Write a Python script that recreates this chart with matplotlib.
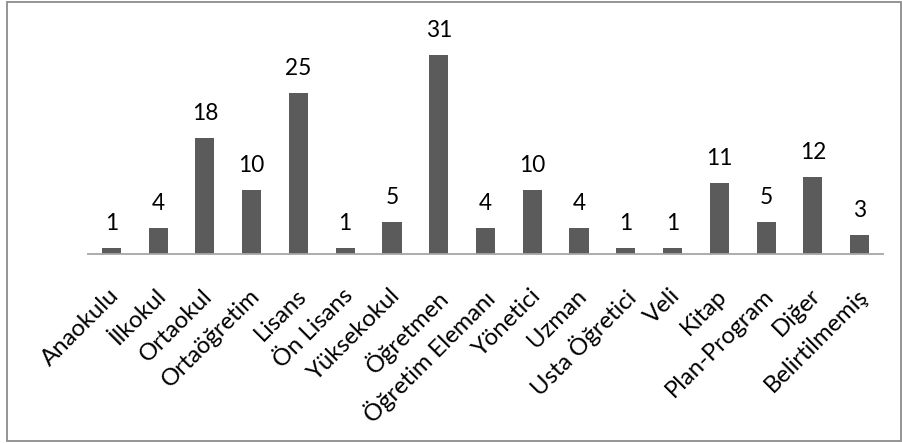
import matplotlib
matplotlib.use("Agg")
import matplotlib.pyplot as plt
from matplotlib.patches import Rectangle
from matplotlib.transforms import blended_transform_factory, ScaledTranslation

categories = ["Anaokulu", "İlkokul", "Ortaokul", "Ortaöğretim", "Lisans", "Ön Lisans",
              "Yüksekokul", "Öğretmen", "Öğretim Elemanı", "Yönetici", "Uzman",
              "Usta Öğretici", "Veli", "Kitap", "Plan-Program", "Diğer", "Belirtilmemiş"]
values = [1, 4, 18, 10, 25, 1, 5, 31, 4, 10, 4, 1, 1, 11, 5, 12, 3]

plt.rcParams['font.family'] = ['Lato', 'DejaVu Sans']

W, H = 902, 443
fig = plt.figure(figsize=(W / 100, H / 100), dpi=100)
fig.patch.set_facecolor('white')

# outer chart frame
fig.add_artist(Rectangle((7.5 / W, 2.5 / H), (901 - 7.5) / W, (441 - 2.5) / H,
                         transform=fig.transFigure, fill=False,
                         edgecolor='#8c8c8c', linewidth=1.3))

ax = fig.add_axes([88 / W, (H - 254) / H, (883 - 88) / W, (254 - 29) / H])
x = list(range(len(categories)))
bars = ax.bar(x, values, width=0.41, color='#5b5b5b', zorder=2)
ax.set_xlim(-0.5, len(categories) - 0.5)
ax.set_ylim(0, 35)

text_color = '#000000'
for b, v in zip(bars, values):
    ax.annotate(str(v), (b.get_x() + b.get_width() / 2, b.get_height()),
                xytext=(0, 13), textcoords='offset points',
                ha='center', va='baseline', fontsize=16.3, color=text_color)

for s in ['top', 'right', 'left']:
    ax.spines[s].set_visible(False)
ax.spines['bottom'].set_color('#a6a6a6')
ax.spines['bottom'].set_linewidth(1.3)
ax.set_yticks([])
ax.set_xticks(x)
ax.set_xticklabels([])
ax.tick_params(axis='x', length=0)

# category labels, rotated 45 degrees below the baseline
label_tr = blended_transform_factory(ax.transData, ax.transAxes) + \
    ScaledTranslation(-3 / 100, -31 / 100, fig.dpi_scale_trans)
for i, name in zip(x, categories):
    ax.text(i, 0, name, transform=label_tr, rotation=45, rotation_mode='anchor',
            ha='right', va='top', fontsize=17.2, color=text_color, clip_on=False)

fig.savefig('out.png', dpi=100, facecolor='white')
